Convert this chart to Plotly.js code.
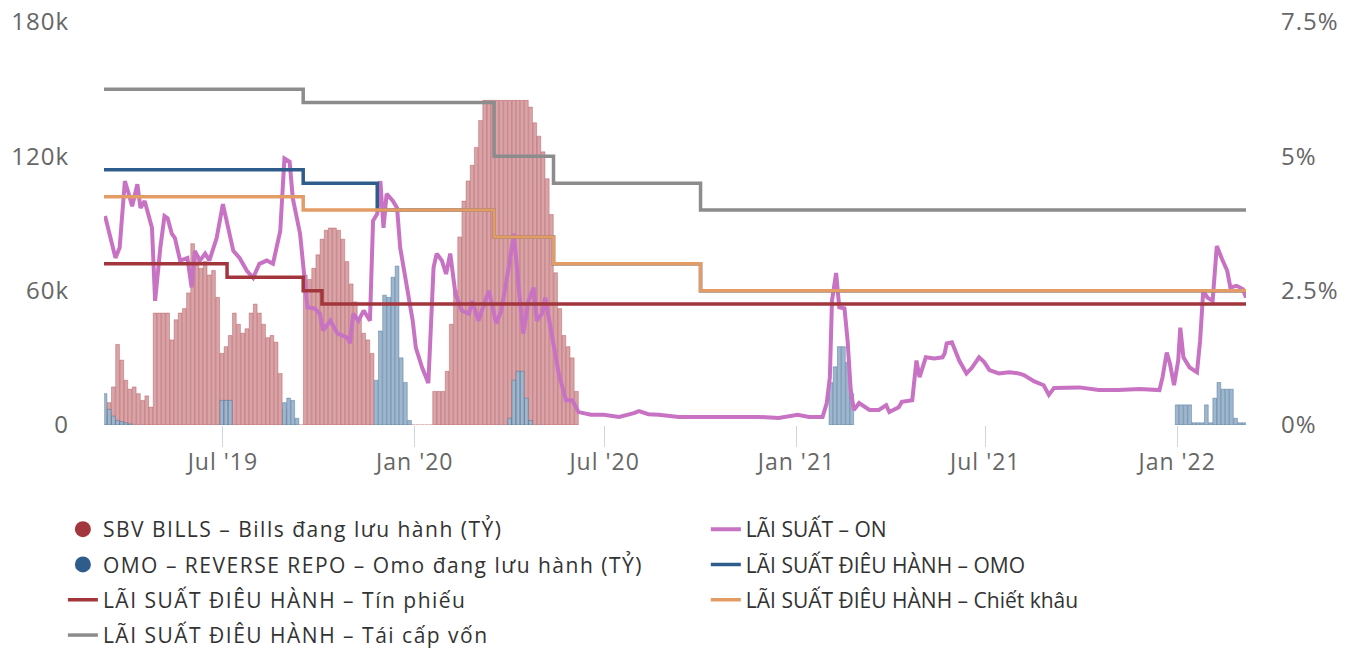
<!DOCTYPE html>
<html>
<head>
<meta charset="utf-8">
<script src="https://cdn.plot.ly/plotly-3.0.1.min.js"></script>
<style>
html,body{margin:0;padding:0;background:#fff;}
#chart{width:1350px;height:649px;}
.legendtext{letter-spacing:1.5px;}
.xtick text, .ytick text, .y2tick text{letter-spacing:1px;}
</style>
</head>
<body>
<div id="chart"></div>
<script>
// ---------- DATA ----------
// Bars: values in thousand (tỷ), one bar every 4 days from segment start
var billsStart = ['2019-03-10'];
var billsK = [[
  5,10,17,36,29,20,16,17,14,11,
  13,8,50,50,50,50,38,47,50,52,
  59,81,76,70,73,67,69,57,32,35,
  40,50,45,41,43,50,54,50,45,39,
  40,37,23,7,0,0,0,0,67,65,
  70,76,83,87,88,88,87,83,73,63,
  55,48,41,38,32,
  0,0,0,0,0,0,0,0,0,0,0,0,0,0,
  15,15,15,24,45,60,84,100,109,116,
  124,136,145,145,145,145,145,145,145,145,
  145,145,145,142,135,129,122,110,94,68,
  52,40,35,30,15
]];
var omoStart = ['2019-03-10','2019-06-30','2019-08-29','2019-11-25','2020-04-01','2021-02-03','2022-01-01'];
var omoK = [
  [14,7,4,2,1.5,1,0.5],
  [11,11,11],
  [10,12,11,3],
  [20,42,58,57,66,71,30,19,2],
  [3,20,24,24,12,2],
  [19,26,35,35,28,14],
  [9,9,9,9,1,1,1,9,1,12,19,16,16,16,3,1,1]
];

// Overnight interbank rate (%)
var onDates = ['2019-03-10','2019-03-20','2019-03-24','2019-03-29','2019-04-01','2019-04-05','2019-04-10','2019-04-13','2019-04-17','2019-04-24',
'2019-04-27','2019-05-02','2019-05-06','2019-05-09','2019-05-13','2019-05-16','2019-05-21','2019-05-28','2019-06-01','2019-06-04',
'2019-06-09','2019-06-14','2019-06-18','2019-06-25','2019-07-01','2019-07-06','2019-07-11','2019-07-17','2019-07-24','2019-07-30',
'2019-08-05','2019-08-12','2019-08-18','2019-08-25','2019-08-29','2019-09-03','2019-09-06','2019-09-13','2019-09-16','2019-09-20',
'2019-09-27','2019-10-02','2019-10-05','2019-10-12','2019-10-19','2019-10-28','2019-10-31','2019-11-03','2019-11-08','2019-11-13',
'2019-11-19','2019-11-22','2019-11-26','2019-11-29','2019-12-02','2019-12-05','2019-12-11','2019-12-15','2019-12-18','2019-12-25',
'2019-12-30','2020-01-02','2020-01-08','2020-01-14','2020-01-17','2020-01-19','2020-01-22','2020-01-27','2020-01-31','2020-02-04',
'2020-02-09','2020-02-15','2020-02-22','2020-02-25','2020-03-02','2020-03-09','2020-03-12','2020-03-19','2020-03-24','2020-03-31',
'2020-04-05','2020-04-09','2020-04-14','2020-04-19','2020-04-24','2020-04-27','2020-05-02','2020-05-05','2020-05-11','2020-05-18',
'2020-05-25','2020-05-31','2020-06-06','2020-06-18','2020-06-30','2020-07-15','2020-07-29','2020-08-03','2020-08-12','2020-08-22',
'2020-09-10','2020-09-29','2020-10-18','2020-11-06','2020-11-26','2020-12-15','2021-01-02','2021-01-13','2021-01-26','2021-01-30',
'2021-02-02','2021-02-04','2021-02-08','2021-02-11','2021-02-16','2021-02-19','2021-02-22','2021-02-25','2021-03-02','2021-03-12',
'2021-03-21','2021-03-28','2021-03-31','2021-04-09','2021-04-12','2021-04-22','2021-04-26','2021-04-29','2021-05-05','2021-05-13',
'2021-05-21','2021-05-23','2021-05-25','2021-05-30','2021-06-06','2021-06-13','2021-06-18','2021-06-25','2021-06-30','2021-07-05',
'2021-07-14','2021-07-24','2021-08-02','2021-08-07','2021-08-17','2021-08-26','2021-08-31','2021-09-05','2021-09-10','2021-09-29',
'2021-10-18','2021-11-06','2021-11-26','2021-12-15','2021-12-18','2021-12-22','2021-12-25','2021-12-29','2022-01-02','2022-01-04',
'2022-01-07','2022-01-13','2022-01-20','2022-01-23','2022-01-26','2022-01-30','2022-02-04','2022-02-08','2022-02-13','2022-02-18',
'2022-02-21','2022-02-27','2022-03-05','2022-03-08'];
var onRate = [3.89,3.11,3.30,4.54,4.35,4.07,4.48,4.04,4.17,3.67,
2.31,3.30,3.89,3.85,3.56,3.48,3.06,3.11,2.56,3.24,
3.06,3.19,3.06,3.48,4.11,3.67,3.24,3.11,2.87,2.74,
3.00,3.06,3.00,3.61,4.96,4.90,4.22,3.56,2.93,2.19,
2.17,2.07,1.76,1.94,1.70,1.63,1.52,2.07,1.94,2.13,
1.94,3.80,3.93,4.54,3.67,4.30,4.17,4.04,3.30,2.44,
1.94,1.44,1.07,0.78,2.07,2.93,3.19,3.06,2.81,3.19,
2.44,2.13,2.07,2.31,1.94,2.37,2.50,1.89,2.13,2.93,
3.56,2.69,1.70,2.31,2.56,1.94,2.07,2.37,1.70,0.96,
0.46,0.46,0.24,0.19,0.19,0.15,0.22,0.26,0.20,0.19,
0.15,0.15,0.15,0.16,0.15,0.13,0.19,0.15,0.15,0.41,
0.89,2.31,2.83,2.19,2.17,1.57,0.65,0.28,0.41,0.28,
0.28,0.37,0.24,0.33,0.43,0.46,1.20,0.89,1.26,1.24,
1.26,1.33,1.52,1.54,1.20,0.96,1.06,1.26,1.17,1.02,
0.96,0.98,0.96,0.93,0.81,0.74,0.56,0.69,0.69,0.70,
0.65,0.65,0.67,0.65,0.89,1.35,1.15,0.74,1.20,1.81,
1.26,1.07,0.98,1.57,2.50,2.37,2.31,3.33,3.09,2.87,
2.56,2.59,2.53,2.37];

// Policy rates (%), step changes
var omoRateDates = ['2019-03-09','2019-09-16','2019-11-26','2020-03-17','2020-05-13','2020-10-01','2022-03-08'];
var omoRate      = [4.75,4.5,4.0,3.5,3.0,2.5,2.5];
var billRateDates = ['2019-03-09','2019-07-05','2019-09-16','2019-10-04','2022-03-08'];
var billRate      = [3.0,2.75,2.5,2.25,2.25];
var discDates = ['2019-03-09','2019-09-16','2020-03-17','2020-05-13','2020-10-01','2022-03-08'];
var discRate  = [4.25,4.0,3.5,3.0,2.5,2.5];
var refiDates = ['2019-03-09','2019-09-16','2020-03-17','2020-05-13','2020-10-01','2022-03-08'];
var refiRate  = [6.25,6.0,5.0,4.5,4.0,4.0];

var names = [
  'SBV BILLS – Bills đang lưu hành (TỶ)',
  'LÃI SUẤT – ON',
  'OMO – REVERSE REPO – Omo đang lưu hành (TỶ)',
  'LÃI SUẤT ĐIÊU HÀNH – OMO',
  'LÃI SUẤT ĐIÊU HÀNH – Tín phiếu',
  'LÃI SUẤT ĐIÊU HÀNH – Chiết khâu',
  'LÃI SUẤT ĐIÊU HÀNH – Tái cấp vốn'
];
var xTickVals = ['2019-07-01','2020-01-01','2020-07-01','2021-01-01','2021-07-01','2022-01-01'];
var xTickText = ["Jul '19","Jan '20","Jul '20","Jan '21","Jul '21","Jan '22"];
var yTickVals = [0,60000,120000,180000];
var yTickText = ['0','60k','120k','180k'];
var y2TickVals = [0,2.5,5,7.5];
var y2TickText = ['0%','2.5%','5%','7.5%'];

// ---------- BUILD ----------
var STEP = 4*24*3600*1000;
function expand(starts, vals){
  var xs=[], ys=[];
  for(var s=0;s<starts.length;s++){
    var t0 = Date.parse(starts[s]+'T00:00:00Z');
    for(var k=0;k<vals[s].length;k++){
      xs.push(new Date(t0 + k*STEP).toISOString().slice(0,10));
      ys.push(vals[s][k]*1000);
    }
  }
  return {x:xs,y:ys};
}
var B = expand(billsStart, billsK);
var O = expand(omoStart, omoK);

var cRed='#a3363d', cBlue='#2e5d8c', cPink='#c872c4', cOrange='#e39c66', cGray='#8c8c8c';

var traces = [
  {type:'bar', x:B.x, y:B.y, name:names[0], showlegend:false, yaxis:'y',
   marker:{color:'#d9a4a7', line:{color:'rgba(163,54,61,0.7)', width:0.5}}},
  {type:'bar', x:O.x, y:O.y, name:names[2], showlegend:false, yaxis:'y',
   marker:{color:'#9fb7cd', line:{color:'rgba(46,93,140,0.75)', width:0.5}}},
  {type:'scatter', mode:'lines', x:onDates, y:onRate, name:names[1], yaxis:'y2',
   legend:'legend2', legendgroup:'g2', legendrank:1, line:{color:cPink, width:4}},
  {type:'scatter', mode:'lines', x:omoRateDates, y:omoRate, name:names[3], yaxis:'y2',
   legend:'legend2', legendgroup:'g4', legendrank:2, line:{color:cBlue, width:3.5, shape:'hv'}},
  {type:'scatter', mode:'lines', x:billRateDates, y:billRate, name:names[4], yaxis:'y2',
   legend:'legend', legendgroup:'g5', legendrank:3, line:{color:cRed, width:3.5, shape:'hv'}},
  {type:'scatter', mode:'lines', x:discDates, y:discRate, name:names[5], yaxis:'y2',
   legend:'legend2', legendgroup:'g6', legendrank:3, line:{color:cOrange, width:3.5, shape:'hv'}},
  {type:'scatter', mode:'lines', x:refiDates, y:refiRate, name:names[6], yaxis:'y2',
   legend:'legend', legendgroup:'g7', legendrank:4, line:{color:cGray, width:3.5, shape:'hv'}},
  // legend-only entries for the bar series (circle symbols)
  {type:'scatter', mode:'markers', x:[null], y:[null], name:names[0], yaxis:'y',
   legend:'legend', legendgroup:'g1', legendrank:1, marker:{color:cRed, size:21, symbol:'circle'}},
  {type:'scatter', mode:'markers', x:[null], y:[null], name:names[2], yaxis:'y',
   legend:'legend', legendgroup:'g3', legendrank:2, marker:{color:cBlue, size:21, symbol:'circle'}}
];

var tickFont = {family:'Open Sans, sans-serif', size:24, color:'#666666'};
var legFont = {family:'Open Sans, sans-serif', size:21, color:'#333333'};
var layout = {
  width:1350, height:649,
  margin:{l:104, r:104, t:22, b:224},
  paper_bgcolor:'#ffffff', plot_bgcolor:'#ffffff',
  barmode:'overlay', bargap:0.1,
  showlegend:true,
  legend:{orientation:'v', x:-0.036, xanchor:'left', yref:'container', y:0.2157, yanchor:'top',
    font:legFont, traceorder:'grouped', tracegroupgap:5, bgcolor:'rgba(0,0,0,0)'},
  legend2:{orientation:'v', x:0.527, xanchor:'left', yref:'container', y:0.2157, yanchor:'top',
    font:legFont, traceorder:'grouped', tracegroupgap:5, bgcolor:'rgba(0,0,0,0)'},
  xaxis:{type:'date', range:['2019-03-09','2022-03-08'], tickvals:xTickVals, ticktext:xTickText,
    showgrid:false, zeroline:false, showline:false, ticks:'outside', ticklen:21, tickcolor:'#ccd6eb', tickwidth:1,
    ticklabelstandoff:-5, tickfont:{family:'Open Sans, sans-serif', size:23, color:'#666666'}},
  yaxis:{range:[0,180000], tickvals:yTickVals, ticktext:yTickText, showgrid:false, zeroline:false,
    showline:false, ticks:'', ticklabelstandoff:34, tickfont:tickFont},
  yaxis2:{range:[0,7.5], tickvals:y2TickVals, ticktext:y2TickText, overlaying:'y', side:'right',
    showgrid:false, zeroline:false, showline:false, ticks:'', ticklabelstandoff:34, tickfont:tickFont}
};
Plotly.newPlot('chart', traces, layout, {displayModeBar:false, responsive:false});
</script>
</body>
</html>
